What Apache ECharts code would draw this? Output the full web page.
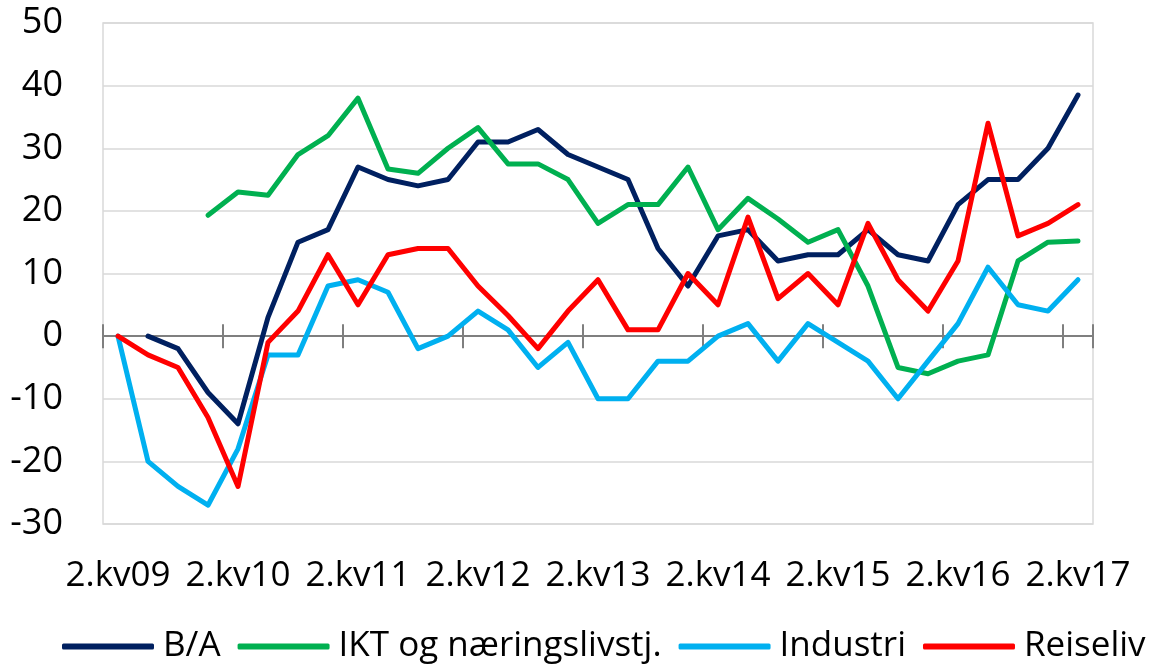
<!DOCTYPE html>
<html>
<head>
<meta charset="utf-8">
<script src="https://cdn.jsdelivr.net/npm/echarts@6/dist/echarts.min.js"></script>
<style>
html,body{margin:0;padding:0;background:#fff;}
#chart{width:1171px;height:668px;}
</style>
</head>
<body>
<div id="chart"></div>
<script>
var categories = ['2.kv09','3.kv09','4.kv09','1.kv10','2.kv10','3.kv10','4.kv10','1.kv11','2.kv11','3.kv11','4.kv11','1.kv12','2.kv12','3.kv12','4.kv12','1.kv13','2.kv13','3.kv13','4.kv13','1.kv14','2.kv14','3.kv14','4.kv14','1.kv15','2.kv15','3.kv15','4.kv15','1.kv16','2.kv16','3.kv16','4.kv16','1.kv17','2.kv17'];
var seriesNames = ['B/A', 'IKT og næringslivstj.', 'Industri', 'Reiseliv'];
var ba = [null,0,-2,-9,-14,3,15,17,27,25,24,25,31,31,33,29,27,25,14,8,16,17,12,13,13,17,13,12,21,25,25,30,38.5];
var ikt = [null,null,null,19.3,23,22.5,29,32,38,26.7,26,30,33.3,27.5,27.5,25,18,21,21,27,17,22,18.7,15,17,8,-5,-6,-4,-3,12,15,15.2];
var industri = [0,-20,-24,-27,-18,-3,-3,8,9,7,-2,0,4,1,-5,-1,-10,-10,-4,-4,0,2,-4,2,-1,-4,-10,-4,2,11,5,4,9];
var reiseliv = [0,-3,-5,-13,-24,-1,4,13,5,13,14,14,8,3.3,-2,4,9,1,1,10,5,19,6,10,5,18,9,4,12,34,16,18,21];
var yTicks = {min: -30, max: 50, interval: 10};

var colors = ['#002060', '#00B050', '#00B0F0', '#FF0000'];
var FONT = 'Open Sans';

var chart = echarts.init(document.getElementById('chart'));
function mkSeries(name, data, color) {
  return {
    name: name, type: 'line', data: data, xAxisIndex: 0, yAxisIndex: 0,
    showSymbol: false, symbol: 'none', connectNulls: false,
    lineStyle: {color: color, width: 5, cap: 'round', join: 'round'},
    itemStyle: {color: color}
  };
}
var catAxisBase = {
  type: 'category', data: categories, boundaryGap: true, position: 'bottom',
  axisLabel: {show: false}, splitLine: {show: false}
};
chart.setOption({
  animation: false,
  textStyle: {fontFamily: FONT},
  grid: {left: 103, right: 78, top: 23, bottom: 144, show: true, borderColor: '#d9d9d9', borderWidth: 1.5, backgroundColor: 'transparent'},
  legend: {
    bottom: 4, left: 62, width: 2000, padding: 0, itemWidth: 92, itemHeight: 6, itemGap: 17, icon: 'roundRect',
    textStyle: {fontFamily: FONT, fontSize: 35, color: '#000', padding: [0, 0, 0, 4]},
    data: seriesNames
  },
  xAxis: [
    Object.assign({}, catAxisBase, {
      axisLine: {show: false, onZero: false},
      axisTick: {show: false},
      axisLabel: {show: true, interval: 3, margin: 35, fontSize: 35, color: '#000', fontFamily: FONT}
    }),
    Object.assign({}, catAxisBase, {
      axisLine: {show: true, onZero: true, onZeroAxisIndex: 0, lineStyle: {color: '#7f7f7f', width: 2}},
      axisTick: {show: true, interval: 3, length: 12, inside: false, lineStyle: {color: '#7f7f7f', width: 2}}
    }),
    Object.assign({}, catAxisBase, {
      axisLine: {show: false, onZero: true, onZeroAxisIndex: 1},
      axisTick: {show: true, interval: 3, length: 12, inside: true, lineStyle: {color: '#7f7f7f', width: 2}}
    })
  ],
  yAxis: [
    {
      type: 'value', min: yTicks.min, max: yTicks.max, interval: yTicks.interval,
      axisLine: {show: false}, axisTick: {show: false},
      axisLabel: {fontSize: 36, color: '#000', margin: 40, fontFamily: FONT},
      splitLine: {lineStyle: {color: '#d9d9d9', width: 1.5}}
    },
    {
      type: 'value', min: yTicks.min, max: yTicks.max, interval: yTicks.interval,
      show: false, splitLine: {show: false}
    }
  ],
  series: [
    mkSeries(seriesNames[0], ba, colors[0]),
    mkSeries(seriesNames[1], ikt, colors[1]),
    mkSeries(seriesNames[2], industri, colors[2]),
    mkSeries(seriesNames[3], reiseliv, colors[3])
  ]
});
</script>
</body>
</html>
